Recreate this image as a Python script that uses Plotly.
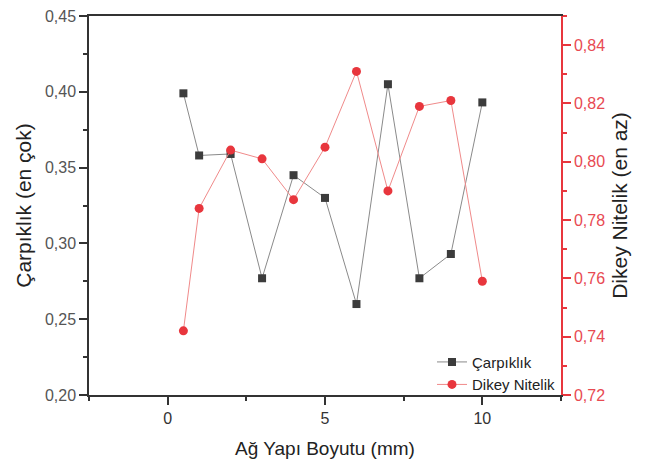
import plotly.graph_objects as go

x_vals = [0.5, 1, 2, 3, 4, 5, 6, 7, 8, 9, 10]
carpiklik = [0.399, 0.358, 0.359, 0.277, 0.345, 0.330, 0.260, 0.405, 0.277, 0.293, 0.393]
dikey = [0.742, 0.784, 0.804, 0.801, 0.787, 0.805, 0.831, 0.790, 0.819, 0.821, 0.759]

RED = "#e8363d"
RED_TXT = "#e84a52"
FONT = "Liberation Sans, Arial, sans-serif"

fig = go.Figure()
fig.add_trace(go.Scatter(
    x=x_vals, y=carpiklik, name="Çarpıklık", mode="lines+markers",
    line=dict(color="#8a8a8a", width=1),
    marker=dict(symbol="square", size=8, color="#3c3c3c"),
))
fig.add_trace(go.Scatter(
    x=x_vals, y=dikey, name="Dikey Nitelik", mode="lines+markers", yaxis="y2",
    line=dict(color="#f08a8a", width=1),
    marker=dict(symbol="circle", size=9, color=RED),
))

fig.update_layout(
    width=641, height=451,
    margin=dict(l=81, r=88, t=7.5, b=64, autoexpand=False),
    plot_bgcolor="white", paper_bgcolor="white",
    separators=",.",
    font=dict(family=FONT, size=16, color="#333"),
    showlegend=True,
    legend=dict(x=1.0, y=-0.015, xanchor="right", yanchor="bottom",
                bgcolor="rgba(0,0,0,0)", font=dict(size=15, color="#222"),
                tracegroupgap=0),
    xaxis=dict(
        range=[-2.5, 12.5], dtick=5, tick0=0, automargin=False,
        ticklabeloverflow="allow",
        showline=True, linecolor="#333", linewidth=1.5, mirror=True,
        ticks="outside", ticklen=8, tickcolor="#333", tickwidth=1.5,
        minor=dict(dtick=2.5, ticks="outside", ticklen=4, tickcolor="#333"),
        showgrid=False, zeroline=False,
        tickfont=dict(size=16, color="#333"),
        title=dict(text="Ağ Yapı Boyutu (mm)", font=dict(size=19, color="#222"), standoff=18),
    ),
    yaxis=dict(
        range=[0.20, 0.45], dtick=0.05, tickformat=".2f", automargin=False,
        ticklabeloverflow="allow",
        showline=True, linecolor="#333", linewidth=1.5,
        ticks="outside", ticklen=8, tickcolor="#333", tickwidth=1.5,
        minor=dict(dtick=0.025, ticks="outside", ticklen=4, tickcolor="#333"),
        showgrid=False, zeroline=False,
        tickfont=dict(size=16, color="#555"),
        title=dict(text="Çarpıklık (en çok)", font=dict(size=21, color="#222"), standoff=8),
    ),
    yaxis2=dict(
        range=[0.72, 0.85], dtick=0.02, tick0=0.72, tickformat=".2f", automargin=False,
        ticklabeloverflow="allow",
        overlaying="y", side="right",
        showline=True, linecolor=RED, linewidth=1.5,
        ticks="outside", ticklen=8, tickcolor=RED, tickwidth=1.5,
        minor=dict(dtick=0.01, ticks="outside", ticklen=4, tickcolor=RED),
        showgrid=False, zeroline=False,
        tickfont=dict(size=16, color=RED_TXT),
        title=dict(text="Dikey Nitelik (en az)", font=dict(size=21, color="#222"), standoff=8),
    ),
)

fig.write_html("out.html")
